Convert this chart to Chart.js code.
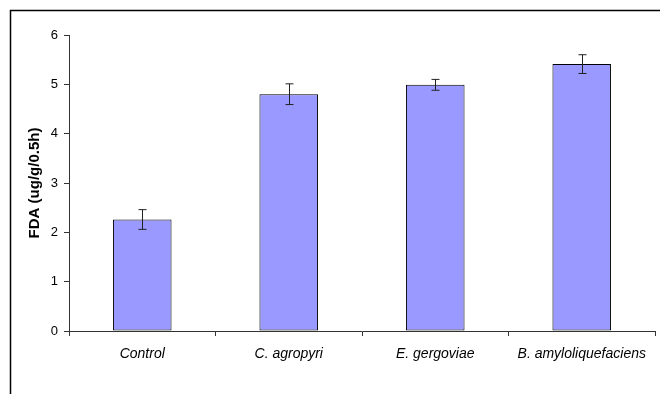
<!DOCTYPE html>
<html>
<head>
<meta charset="utf-8">
<script src="https://cdn.jsdelivr.net/npm/chart.js@4"></script>
<style>
html,body{margin:0;padding:0;background:#fff;}
#wrap{width:660px;height:394px;position:relative;}
</style>
</head>
<body>
<div id="wrap"><canvas id="c" width="660" height="394"></canvas></div>
<script>
const categories = ["Control", "C. agropyri", "E. gergoviae", "B. amyloliquefaciens"];
const fdaValues = [2.26, 4.80, 4.99, 5.41];
const fdaErrors = [0.20, 0.21, 0.11, 0.19];
const yTicks = [0, 1, 2, 3, 4, 5, 6];
const yTitle = "FDA (ug/g/0.5h)";

const errorBars = {
  id: 'errorBars',
  afterDatasetsDraw(chart) {
    const ctx = chart.ctx;
    const meta = chart.getDatasetMeta(0);
    const y = chart.scales.y;
    ctx.save();
    ctx.strokeStyle = '#222';
    ctx.lineWidth = 1;
    meta.data.forEach((bar, i) => {
      const x = Math.round(bar.x) + 0.5;
      const top = y.getPixelForValue(fdaValues[i] + fdaErrors[i]);
      const bot = y.getPixelForValue(fdaValues[i] - fdaErrors[i]);
      ctx.beginPath();
      ctx.moveTo(x, top); ctx.lineTo(x, bot);
      ctx.moveTo(x - 4, top); ctx.lineTo(x + 4, top);
      ctx.moveTo(x - 4, bot); ctx.lineTo(x + 4, bot);
      ctx.stroke();
    });
    ctx.restore();
  }
};

const frame = {
  id: 'frame',
  afterDraw(chart) {
    const ctx = chart.ctx;
    ctx.save();
    ctx.strokeStyle = '#000';
    ctx.lineWidth = 1.5;
    ctx.beginPath();
    ctx.moveTo(10.5, 400);
    ctx.lineTo(10.5, 10.5);
    ctx.lineTo(670, 10.5);
    ctx.stroke();
    ctx.restore();
  }
};

new Chart(document.getElementById('c'), {
  type: 'bar',
  data: {
    labels: categories,
    datasets: [{
      data: fdaValues,
      backgroundColor: '#9999FF',
      borderColor: '#000',
      borderWidth: 1,
      borderSkipped: false,
      barPercentage: 0.4,
      categoryPercentage: 1.0
    }]
  },
  options: {
    responsive: false,
    animation: false,
    devicePixelRatio: 1,
    layout: { padding: { left: 0, top: 35, right: 5, bottom: 0 } },
    plugins: { legend: { display: false }, tooltip: { enabled: false } },
    scales: {
      x: {
        offset: true,
        grid: { offset: true, drawOnChartArea: false, drawTicks: true, tickLength: 5, color: '#333' },
        border: { color: '#333', width: 1 },
        ticks: { color: '#000', padding: 10, maxRotation: 0, autoSkip: false,
                 font: { family: 'Liberation Sans, Arial, sans-serif', size: 14, style: 'italic' } },
        afterFit(s) { s.height = 63; }
      },
      y: {
        min: 0, max: 6,
        afterBuildTicks(s) { s.ticks = yTicks.map(v => ({ value: v })); },
        grid: { drawOnChartArea: false, drawTicks: true, tickLength: 5, color: '#333' },
        border: { color: '#333', width: 1 },
        ticks: { color: '#000', padding: 6,
                 font: { family: 'Liberation Sans, Arial, sans-serif', size: 13 } },
        title: { display: true, text: yTitle, color: '#000', padding: { top: 26, bottom: 0 },
                 font: { family: 'Liberation Sans, Arial, sans-serif', size: 15, weight: 'bold' } },
        afterFit(s) { s.width = 69; }
      }
    }
  },
  plugins: [errorBars, frame]
});
</script>
</body>
</html>
